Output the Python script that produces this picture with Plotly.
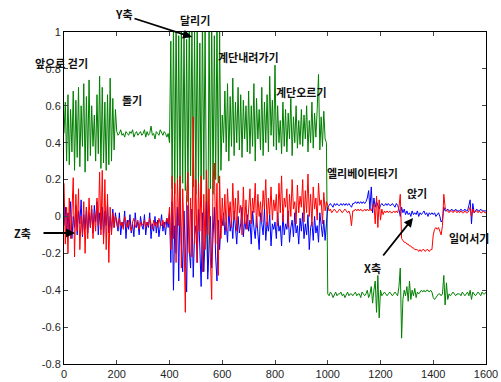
import plotly.graph_objects as go

# sample index (step 5)
sample_idx = list(range(0, 1601, 5))

# Y axis acceleration (green)
y_axis = [
    0.45,0.62,0.30,0.66,0.28,0.58,0.35,0.68,0.25,0.63,0.32,0.70,0.27,0.60,0.38,0.72,0.24,0.65,0.30,0.74,
    0.33,0.60,0.38,0.55,0.30,0.66,0.34,0.76,0.26,0.70,0.29,0.62,0.25,0.66,0.28,0.75,0.30,0.64,0.36,0.58,
    0.46,0.44,0.45,0.47,0.44,0.45,0.43,0.46,0.45,0.44,0.46,0.45,0.47,0.43,0.45,0.46,0.44,0.45,0.46,0.44,
    0.45,0.47,0.43,0.46,0.44,0.45,0.49,0.44,0.45,0.42,0.46,0.45,0.44,0.47,0.45,0.44,0.46,0.45,0.43,0.45,
    0.40,0.95,0.15,1.05,0.12,1.10,0.20,0.98,0.10,1.08,0.18,1.02,0.14,0.96,0.08,1.12,0.22,1.05,0.16,1.00,
    0.12,1.06,0.18,0.94,0.05,1.10,0.20,1.02,0.10,-0.30,1.04,0.15,1.08,0.12,0.98,0.20,1.06,0.18,1.00,0.25,
    0.55,0.40,0.68,0.35,0.72,0.30,0.65,0.38,0.75,0.33,0.62,0.40,0.70,0.36,0.66,0.32,0.63,0.42,0.60,0.35,
    0.68,0.34,0.60,0.38,0.72,0.30,0.64,0.42,0.58,0.36,0.70,0.33,0.62,0.40,0.66,0.35,0.76,0.44,0.63,0.38,
    0.82,0.36,0.60,0.40,0.52,0.34,0.62,0.38,0.58,0.35,0.56,0.42,0.64,0.33,0.54,0.40,0.60,0.37,0.52,0.39,
    0.58,0.38,0.55,0.42,0.60,0.35,0.52,0.40,0.62,0.37,0.56,0.43,0.58,0.77,0.36,0.54,0.38,0.57,0.42,0.40,
    -0.42,-0.43,-0.41,-0.42,-0.44,-0.42,-0.41,-0.43,-0.42,-0.42,-0.41,-0.43,-0.42,-0.44,-0.42,-0.41,-0.43,-0.42,-0.42,-0.43,
    -0.42,-0.41,-0.43,-0.42,-0.42,-0.44,-0.41,-0.42,-0.43,-0.42,-0.40,-0.44,-0.42,-0.38,-0.47,-0.40,-0.35,-0.52,-0.32,-0.55,
    -0.40,-0.43,-0.42,-0.41,-0.42,-0.43,-0.42,-0.41,-0.42,-0.43,-0.42,-0.41,-0.42,-0.43,-0.38,-0.28,-0.66,-0.45,-0.40,-0.43,
    -0.38,-0.46,-0.35,-0.45,-0.40,-0.43,-0.39,-0.44,-0.41,-0.42,-0.41,-0.40,-0.41,-0.40,-0.41,-0.40,-0.40,-0.41,-0.40,-0.41,
    -0.44,-0.45,-0.44,-0.43,-0.42,-0.42,-0.43,-0.42,-0.32,-0.48,-0.36,-0.45,-0.42,-0.43,-0.42,-0.41,-0.42,-0.43,-0.42,-0.42,
    -0.42,-0.43,-0.41,-0.42,-0.43,-0.42,-0.41,-0.43,-0.40,-0.45,-0.41,-0.42,-0.43,-0.42,-0.41,-0.42,-0.43,-0.41,-0.42,-0.42,
    -0.41,
]

# Z axis acceleration (red)
z_axis = [
    0.18,-0.15,0.05,-0.20,0.10,-0.12,0.02,0.21,-0.22,0.12,-0.08,0.15,-0.18,0.00,-0.10,0.08,-0.20,0.05,-0.12,0.10,
    -0.06,0.06,-0.12,0.02,-0.08,0.10,-0.05,0.24,-0.10,0.25,-0.15,0.20,-0.18,0.12,-0.25,0.05,-0.10,0.02,-0.06,0.00,
    -0.02,-0.06,-0.01,-0.05,-0.03,-0.07,0.00,-0.04,-0.06,-0.02,-0.05,-0.08,-0.03,-0.01,-0.06,-0.04,-0.02,-0.07,-0.03,-0.05,
    -0.04,-0.02,-0.06,-0.03,-0.05,-0.01,-0.04,-0.07,-0.02,-0.05,-0.03,-0.06,-0.01,-0.04,-0.05,-0.02,-0.06,-0.03,-0.01,-0.04,
    0.05,-0.18,0.22,-0.12,0.18,-0.25,0.20,-0.05,0.22,-0.28,0.15,-0.10,-0.52,0.12,0.24,-0.20,0.10,-0.22,0.54,-0.15,
    0.20,-0.25,0.18,-0.08,0.22,-0.30,0.12,-0.18,0.25,-0.10,0.15,-0.22,-0.45,0.20,0.29,-0.15,0.18,-0.32,0.22,-0.12,
    0.10,-0.05,0.12,-0.08,0.15,0.00,0.08,-0.06,0.18,-0.02,0.10,-0.08,0.14,0.02,0.06,-0.10,0.16,-0.04,0.09,-0.07,
    0.05,0.15,-0.04,0.10,0.02,0.18,-0.06,0.12,0.00,0.08,-0.03,0.14,0.04,0.20,-0.05,0.10,0.01,0.16,-0.02,0.09,
    0.03,0.12,-0.05,0.18,0.02,0.22,-0.03,0.10,0.05,0.15,-0.06,0.12,0.00,0.20,0.04,0.08,-0.04,0.17,0.02,0.11,
    0.05,0.20,-0.03,0.14,0.02,0.23,0.00,0.12,-0.05,0.16,0.04,0.10,-0.02,0.18,0.06,0.09,-0.04,0.13,0.03,0.08,
    0.06,0.03,0.04,0.02,0.03,0.04,0.03,0.02,0.03,0.04,0.03,0.02,0.03,0.04,0.03,0.02,0.03,0.01,-0.05,0.03,
    0.03,0.04,0.03,0.04,0.03,0.04,0.03,0.03,0.04,0.03,0.04,0.03,0.04,0.03,0.05,0.07,-0.04,0.11,-0.06,0.09,
    -0.02,0.04,0.01,0.03,0.02,0.03,0.02,0.03,0.02,0.02,0.03,0.02,0.03,0.02,0.05,0.12,-0.12,-0.13,-0.14,-0.14,
    -0.15,-0.15,-0.16,-0.16,-0.17,-0.17,-0.18,-0.18,-0.18,-0.19,-0.18,-0.19,-0.18,-0.18,-0.19,-0.18,-0.18,-0.19,-0.18,-0.18,
    -0.10,-0.07,-0.06,-0.07,-0.06,-0.08,-0.10,-0.05,0.12,0.05,0.03,0.03,0.02,0.03,0.03,0.02,0.03,0.03,0.02,0.03,
    0.02,0.03,0.02,0.02,0.03,0.02,0.02,0.03,0.05,0.00,0.04,0.02,0.03,0.03,0.02,0.03,0.02,0.02,0.03,0.02,
    0.02,
]

# X axis acceleration (blue)
x_axis = [
    -0.05,0.05,-0.10,0.02,-0.08,0.08,-0.12,0.00,-0.06,0.06,-0.10,0.03,-0.04,0.09,-0.11,0.01,-0.07,0.05,-0.09,0.02,
    -0.06,0.04,-0.09,0.06,-0.03,0.08,-0.10,0.02,-0.07,0.05,-0.12,0.03,-0.05,0.07,-0.09,0.00,-0.08,0.04,-0.06,0.02,
    -0.04,-0.08,0.02,-0.10,-0.03,-0.06,0.03,-0.12,-0.02,-0.07,0.01,-0.09,-0.04,-0.11,0.02,-0.06,-0.03,-0.10,0.00,-0.05,
    -0.07,0.01,-0.10,-0.03,-0.06,0.02,-0.12,-0.04,-0.08,0.00,-0.09,-0.02,-0.11,-0.05,0.01,-0.08,-0.03,-0.10,-0.01,-0.06,
    0.02,-0.25,0.08,-0.40,-0.05,-0.20,0.05,-0.35,0.10,-0.15,-0.30,0.03,-0.22,-0.41,0.06,-0.18,-0.28,0.04,-0.33,-0.10,
    -0.05,-0.25,0.04,-0.20,-0.38,0.02,-0.30,-0.12,0.08,-0.34,-0.15,0.00,-0.28,-0.08,0.05,-0.22,-0.35,-0.02,-0.18,-0.05,
    -0.05,0.02,-0.10,-0.03,-0.14,0.04,-0.08,-0.02,-0.12,0.03,-0.06,-0.15,0.00,-0.09,-0.04,0.05,-0.11,-0.02,-0.07,0.01,
    -0.08,-0.02,-0.15,0.03,-0.06,-0.12,0.00,-0.09,-0.18,0.02,-0.05,-0.10,0.04,-0.13,-0.03,-0.08,0.01,-0.16,-0.04,-0.07,
    -0.03,-0.12,0.02,-0.08,-0.05,-0.16,0.01,-0.10,-0.04,-0.07,0.03,-0.14,-0.06,-0.02,-0.11,0.02,-0.09,-0.05,-0.15,-0.01,
    -0.08,0.02,-0.12,-0.04,-0.10,0.01,-0.18,-0.06,-0.03,-0.13,0.00,-0.09,-0.05,-0.14,0.02,-0.07,-0.11,-0.02,-0.13,-0.04,
    0.05,0.06,0.07,0.06,0.05,0.07,0.06,0.07,0.06,0.06,0.07,0.06,0.07,0.06,0.07,0.06,0.07,0.06,0.05,0.07,
    0.07,0.08,0.07,0.08,0.07,0.08,0.07,0.08,0.07,0.08,0.10,0.14,0.04,0.16,0.02,0.10,0.05,0.08,0.06,0.04,
    0.06,0.07,0.06,0.06,0.07,0.06,0.07,0.06,0.06,0.07,0.06,0.05,0.07,0.06,0.04,0.00,0.05,0.02,0.04,0.01,
    0.03,0.01,0.02,0.00,0.03,0.01,0.02,0.01,0.03,0.00,0.02,0.01,0.02,0.03,0.01,0.02,0.00,0.02,0.01,0.02,
    0.01,0.02,0.00,0.01,0.02,0.00,-0.03,-0.02,0.05,0.03,0.03,0.04,0.03,0.03,0.04,0.03,0.03,0.04,0.03,0.03,
    0.03,0.04,0.03,0.03,0.04,0.03,0.03,0.06,0.09,-0.04,0.07,0.02,0.03,0.04,0.03,0.03,0.04,0.03,0.03,0.03,
    0.03,
]

x_ticks = [0, 200, 400, 600, 800, 1000, 1200, 1400, 1600]
y_ticks = [-0.8, -0.6, -0.4, -0.2, 0, 0.2, 0.4, 0.6, 0.8, 1]
y_tick_labels = ["-0.8", "-0.6", "-0.4", "-0.2", "0", "0.2", "0.4", "0.6", "0.8", "1"]

# page layout (pixels in the 501x382 window)
W, H = 501, 382
PL, PR, PT, PB = 64, 486, 32, 364   # plot area


def px_to_paper(px, py):
    return (px - PL) / (PR - PL), (PB - py) / (PB - PT)


# activity labels: (text, center px x, center px y)
activity_labels = [
    ("앞으로 걷기", 61, 63),
    ("돌기", 132, 100),
    ("달리기", 195, 20),
    ("계단내려가기", 248, 57),
    ("계단오르기", 301, 92),
    ("엘리베이터타기", 362, 173),
    ("앉기", 417, 193),
    ("일어서기", 469, 238),
]
# axis labels with arrows: (text, text px, text py, tail px, tail py, head px, head py)
axis_pointers = [
    ("Y축", 124, 14, 133, 18, 192, 37),
    ("Z축", 22, 233, 42, 233, 75, 233),
    ("X축", 372, 268, 382, 257, 413, 218),
]

fig = go.Figure()
fig.add_trace(go.Scatter(x=sample_idx, y=y_axis, mode="lines",
                         line=dict(color="#008000", width=1), name="Y"))
fig.add_trace(go.Scatter(x=sample_idx, y=x_axis, mode="lines",
                         line=dict(color="#0000ff", width=1), name="X"))
fig.add_trace(go.Scatter(x=sample_idx, y=z_axis, mode="lines",
                         line=dict(color="#ff0000", width=1), name="Z"))

label_font = dict(family="Noto Sans CJK KR", size=11, color="#111111", weight="bold")
annotations = []
for txt, cx, cy in activity_labels:
    xp, yp = px_to_paper(cx, cy)
    annotations.append(dict(x=xp, y=yp, xref="paper", yref="paper", text=txt,
                            showarrow=False, font=label_font,
                            xanchor="center", yanchor="middle"))
for txt, tx, ty, sx, sy, hx, hy in axis_pointers:
    xp, yp = px_to_paper(tx, ty)
    annotations.append(dict(x=xp, y=yp, xref="paper", yref="paper", text=txt,
                            showarrow=False, font=label_font,
                            xanchor="center", yanchor="middle"))
    hxp, hyp = px_to_paper(hx, hy)
    annotations.append(dict(x=hxp, y=hyp, xref="paper", yref="paper",
                            ax=sx - hx, ay=sy - hy, axref="pixel", ayref="pixel",
                            text="", showarrow=True,
                            arrowhead=2, arrowsize=1, arrowwidth=1.8,
                            arrowcolor="black", standoff=0, startstandoff=0))

tick_font = dict(family="Liberation Sans, Arial", size=11, color="#262626")
fig.update_layout(
    width=W, height=H,
    margin=dict(l=PL, r=W - PR, t=PT, b=H - PB, pad=0),
    paper_bgcolor="white", plot_bgcolor="white",
    showlegend=False,
    annotations=annotations,
    xaxis=dict(range=[0, 1600], tickvals=x_ticks, ticks="inside", ticklen=4,
               showline=True, mirror="ticks", linecolor="black", linewidth=1,
               showgrid=False, zeroline=False, tickfont=tick_font,
               automargin=False),
    yaxis=dict(range=[-0.8, 1], tickvals=y_ticks, ticktext=y_tick_labels,
               ticks="inside", ticklen=4, showline=True, mirror="ticks",
               linecolor="black", linewidth=1, showgrid=False, zeroline=False,
               tickfont=tick_font, automargin=False),
)

fig.write_html(
    "out.html",
    config={"displayModeBar": False},
    post_script="document.body.style.margin='0';document.body.style.overflow='hidden';",
)
